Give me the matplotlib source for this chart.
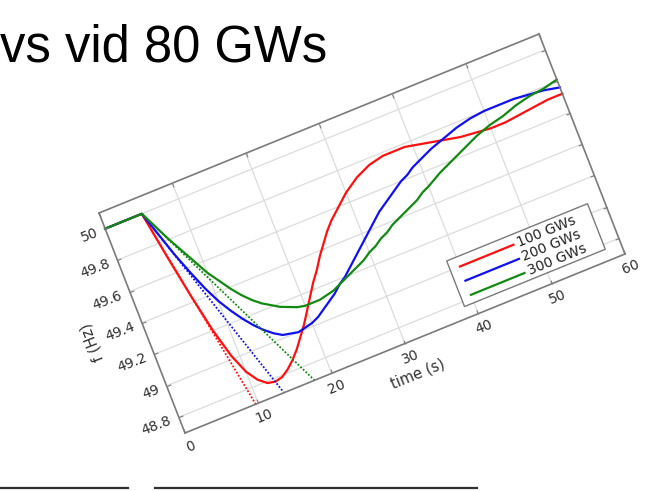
import numpy as np
import matplotlib
matplotlib.use("Agg")
import matplotlib.pyplot as plt
from matplotlib.lines import Line2D
from matplotlib.patches import Rectangle
from matplotlib.transforms import Affine2D
from mpl_toolkits.axisartist import floating_axes
from mpl_toolkits.axisartist.grid_finder import FixedLocator, DictFormatter

plt.rcParams["font.family"] = ["DejaVu Sans"]

# data
time_s = [0, 5, 6, 7, 8, 9, 10, 11, 12, 13, 14, 15, 16, 17, 18, 19, 20, 21,
          22, 23, 24, 25, 26, 27, 28, 29, 30, 31, 32, 33, 34, 35, 36, 37, 38,
          39, 40, 42, 44, 46, 48, 50, 52, 54, 56, 58, 60]
f_100 = [50, 50, 49.71, 49.44, 49.20, 49.02, 48.90, 48.83, 48.79, 48.78,
         48.79, 48.82, 48.86, 48.91, 48.97, 49.03, 49.10, 49.17, 49.24, 49.30,
         49.37, 49.43, 49.49, 49.54, 49.58, 49.62, 49.66, 49.69, 49.72, 49.74,
         49.76, 49.77, 49.78, 49.78, 49.78, 49.78, 49.77, 49.75, 49.73, 49.71,
         49.70, 49.69, 49.69, 49.70, 49.71, 49.72, 49.72]
f_200 = [50, 50, 49.85, 49.70, 49.57, 49.45, 49.35, 49.27, 49.20, 49.14,
         49.09, 49.05, 49.02, 49.01, 49.00, 49.01, 49.02, 49.04, 49.07, 49.10,
         49.13, 49.17, 49.20, 49.24, 49.28, 49.32, 49.36, 49.40, 49.44, 49.48,
         49.51, 49.54, 49.57, 49.60, 49.62, 49.65, 49.67, 49.71, 49.74, 49.77,
         49.79, 49.80, 49.80, 49.80, 49.79, 49.78, 49.76]
f_300 = [50, 50, 49.90, 49.80, 49.71, 49.62, 49.53, 49.46, 49.39, 49.33,
         49.28, 49.24, 49.21, 49.18, 49.16, 49.14, 49.13, 49.13, 49.13, 49.14,
         49.15, 49.17, 49.19, 49.21, 49.23, 49.25, 49.28, 49.30, 49.33, 49.35,
         49.38, 49.40, 49.42, 49.44, 49.46, 49.49, 49.51, 49.56, 49.60, 49.64,
         49.68, 49.71, 49.73, 49.76, 49.78, 49.79, 49.81]

# initial rate-of-change lines (dotted)
tangent_t = {"100 GWs": [5, 9.65], "200 GWs": [5, 13.5], "300 GWs": [5, 17.66]}
tangent_f = [50, 48.7]

labels = ["100 GWs", "200 GWs", "300 GWs"]
colors = ["#ff1010", "#1010f0", "#128a12"]
series = [f_100, f_200, f_300]

xticks = [0, 10, 20, 30, 40, 50, 60]
yticks = [48.8, 49.0, 49.2, 49.4, 49.6, 49.8, 50.0]
ytick_labels = ["48.8", "49", "49.2", "49.4", "49.6", "49.8", "50"]
t_lim = (0, 60)
f_lim = (48.7, 50.1)

W, H = 645, 491
fig = plt.figure(figsize=(W / 100, H / 100), dpi=100)

# the chart is a tilted picture: map (t, f) onto figure pixels (y up)
origin = (185, H - 433)
x_vec = (440, 179)      # pixels spanned by the full time range
y_vec = (-86, 220)      # pixels spanned by the full frequency range
sx = (x_vec[0] / (t_lim[1] - t_lim[0]), x_vec[1] / (t_lim[1] - t_lim[0]))
sy = (y_vec[0] / (f_lim[1] - f_lim[0]), y_vec[1] / (f_lim[1] - f_lim[0]))
mat = np.array([
    [sx[0], sy[0], origin[0] - sx[0] * t_lim[0] - sy[0] * f_lim[0]],
    [sx[1], sy[1], origin[1] - sx[1] * t_lim[0] - sy[1] * f_lim[0]],
    [0, 0, 1],
])
tr = Affine2D(mat)
angle = np.degrees(np.arctan2(x_vec[1], x_vec[0]))

gh = floating_axes.GridHelperCurveLinear(
    tr,
    extremes=(t_lim[0], t_lim[1], f_lim[0], f_lim[1]),
    grid_locator1=FixedLocator(xticks),
    grid_locator2=FixedLocator(yticks),
    tick_formatter1=DictFormatter({v: str(v) for v in xticks}),
    tick_formatter2=DictFormatter(dict(zip(yticks, ytick_labels))),
)
ax = fig.add_axes([0, 0, 1, 1], axes_class=floating_axes.FloatingAxes,
                  grid_helper=gh)
ax.set_xlim(0, W)
ax.set_ylim(0, H)
ax.grid(True, color="#dcdcdc", linewidth=0.9)

for side in ["left", "right", "top", "bottom"]:
    a = ax.axis[side]
    a.line.set_color("#7a7a7a")
    a.line.set_linewidth(1.2)
    a.major_ticks.set_color("#7a7a7a")
    a.major_ticks.set_ticksize(3)
    a.major_ticklabels.set_fontsize(10)
    a.major_ticklabels.set_color("#303030")
    a.major_ticklabels.set_pad(6)
for side in ["right", "top"]:
    ax.axis[side].major_ticklabels.set_visible(False)
    ax.axis[side].label.set_visible(False)
ax.axis["left"].label.set_text("f (Hz)")
ax.axis["bottom"].label.set_text("time (s)")
for side in ["left", "bottom"]:
    ax.axis[side].label.set_fontsize(10.5)
    ax.axis[side].label.set_color("#303030")

aux = ax.get_aux_axes(tr)
for lab, col, f in zip(labels, colors, series):
    aux.plot(time_s, f, color=col, lw=1.6, solid_joinstyle="round")
    aux.plot(tangent_t[lab], tangent_f, color=col, lw=1.3,
             linestyle=(0, (1, 1)))

# legend, drawn inside the tilted axes
leg_t0, leg_t1 = 38.7, 57.9
leg_f0, leg_f1 = 48.77, 49.06
aux.add_patch(Rectangle((leg_t0, leg_f0), leg_t1 - leg_t0, leg_f1 - leg_f0,
                        facecolor="white", edgecolor="#7a7a7a", lw=1.0,
                        zorder=5))
leg_rows = [49.0, 48.91, 48.82]
for lab, col, fy in zip(labels, colors, leg_rows):
    aux.plot([40.0, 47.3], [fy, fy], color=col, lw=1.6, zorder=6)
    aux.text(47.8, fy, lab, rotation=angle, rotation_mode="anchor",
             ha="left", va="center", fontsize=10, color="#222222", zorder=6)

# slide title (cut off at the left edge) and rule at the bottom
fig.text(0.0, (H - 62) / H, "vs vid 80 GWs", fontsize=36.5, ha="left",
         va="baseline", color="black", family="Liberation Sans")
for x0, x1 in [(0, 128), (155, 477)]:
    fig.add_artist(Line2D([x0 / W, x1 / W], [3 / H, 3 / H],
                          transform=fig.transFigure, color="#303030", lw=1.6))

fig.savefig("out.png", dpi=100)
